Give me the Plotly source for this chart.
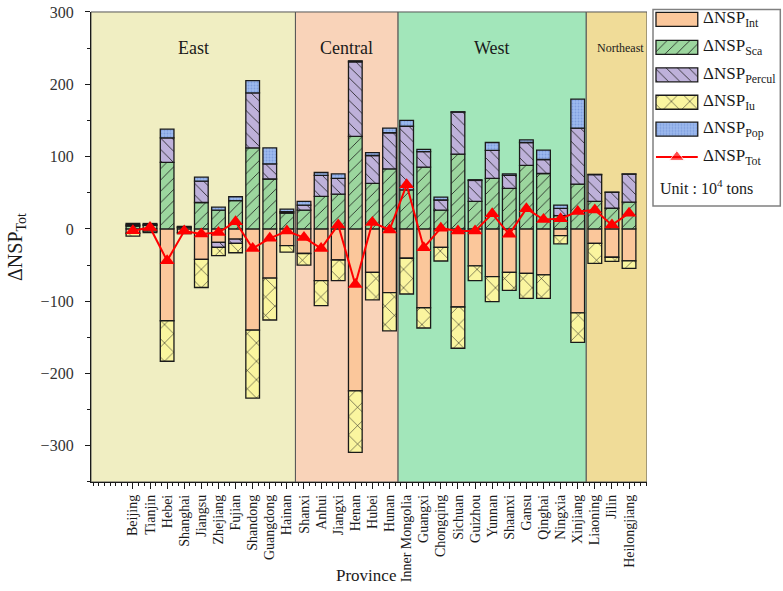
import plotly.graph_objects as go

# ---------------- data ----------------
PROVINCES = ["Beijing", "Tianjin", "Hebei", "Shanghai", "Jiangsu", "Zhejiang", "Fujian",
             "Shandong", "Guangdong", "Hainan",
             "Shanxi", "Anhui", "Jiangxi", "Henan", "Hubei", "Hunan",
             "Inner Mongolia", "Guangxi", "Chongqing", "Sichuan", "Guizhou", "Yunnan",
             "Shaanxi", "Gansu", "Qinghai", "Ningxia", "Xinjiang",
             "Liaoning", "Jilin", "Heilongjiang"]

REGIONS = ["East", "Central", "West", "Northeast"]
REGION_SIZES = [10, 6, 11, 3]

NSP_INT = [-6, -3, -127, -5, -42, -18.5, -14, -140, -68, -23,
           -34, -71.5, -43, -224, -60, -88,
           -40.6, -109, -25.4, -108, -51, -66, -60, -61.4, -63.7, -9.2, -116,
           -20, -39.2, -44.3]
NSP_SCA = [4, 5, 92, 2, 36.5, 26, 39, 112, 69, 22,
           26, 45, 48, 128, 63, 83,
           54, 85.5, 26, 103.5, 38, 70, 56, 88, 76.6, 18.5, 62,
           38, 28.6, 37]
NSP_PERCUL = [1.5, 1, 34, 0.5, 29.5, -7, -6, 76, 21, 2,
              7, 29, 22, 103, 38.5, 50,
              88, 21.5, 14, 58, 29, 38.5, 18, 31.5, 19.4, 10, 77.5,
              37, 22, 38.7]
NSP_IU = [-4, -2, -56, -1.5, -39, -11.5, -13, -94, -58, -9,
          -16, -34.5, -28.5, -85, -38, -53,
          -49.4, -28, -19, -57, -20.5, -34.6, -25, -34.6, -32.3, -11.6, -41,
          -27.7, -5.8, -10.2]
NSP_POP = [2, 1.5, 12, 1, 5.5, 4, 5.5, 17, 22, 3.5,
           5, 4, 6, 1.5, 4, 6.5,
           8, 3, 4, 0.5, 1, 11, 2, 3.5, 13, 4.5, 40,
           0.5, 0.3, 0.3]
NSP_TOT = [-2.5, 2, -44, -3, -7, -5, 10, -27, -13, -3,
           -12, -27, 5.5, -77, 9, -1.5,
           61, -26, 1, -3, -3, 21, -7.5, 28, 13, 14, 24,
           26, 5.5, 21.7]

Y_TICKS = [-300, -200, -100, 0, 100, 200, 300]

# ---------------- styles ----------------
FONT = "Liberation Serif"
X_RANGE = [-2.45, 30.05]
Y_RANGE = [-350, 300]
REGION_COLORS = ["#F0EEC2", "#F9D3B9", "#A2E6BA", "#F0DC98"]

SERIES = [
    ("ΔNSP<sub>Int</sub>", NSP_INT, "#FBC79B", "", 8, "#000000", 0.1),
    ("ΔNSP<sub>Sca</sub>", NSP_SCA, "#9CD69E", "/", 8, "#1a1a1a", 0.1),
    ("ΔNSP<sub>Percul</sub>", NSP_PERCUL, "#BEB1DA", "\\", 8, "#1a1a1a", 0.1),
    ("ΔNSP<sub>Iu</sub>", NSP_IU, "#FAF59F", "x", 13, "#1a1a1a", 0.08),
    ("ΔNSP<sub>Pop</sub>", NSP_POP, "#9DBAEE", ".", 3, "#7F9EDE", 0.3),
]
OUTLINE = dict(color="#1a1a1a", width=1.3)


def pattern(shape, size, fg, sol, color):
    return dict(shape=shape, size=size, fgcolor=fg, bgcolor=color, solidity=sol,
                fillmode="replace")


idx = list(range(len(PROVINCES)))

fig = go.Figure()

for name, vals, color, shape, size, fg, sol in SERIES:
    fig.add_trace(go.Bar(x=idx, y=vals, width=0.8, name=name, showlegend=False,
                         marker=dict(color=color, line=OUTLINE,
                                     pattern=pattern(shape, size, fg, sol, color))))

fig.add_trace(go.Scatter(x=idx, y=NSP_TOT, mode="lines+markers", showlegend=False,
                         line=dict(color="#FF0000", width=2),
                         marker=dict(symbol="triangle-up", size=13, color="#FF0000")))

# ---------------- regions ----------------
shapes = []
annotations = []
start = X_RANGE[0]
cum = 0
LABEL_Y = 250
label_size = [18, 18, 18, 12]
for i, (reg, n) in enumerate(zip(REGIONS, REGION_SIZES)):
    cum += n
    last = i == len(REGIONS) - 1
    end = X_RANGE[1] if last else cum - 0.5
    shapes.append(dict(type="rect", xref="x", yref="y domain", x0=start, x1=end, y0=0, y1=1,
                       fillcolor=REGION_COLORS[i], line=dict(color="#555555", width=1),
                       layer="below"))
    cx = start + 0.5 if last else (start + end) / 2
    annotations.append(dict(x=cx, y=LABEL_Y, xref="x", yref="y", text=reg, showarrow=False,
                            xanchor="left" if last else "center", yanchor="middle",
                            font=dict(family=FONT, size=label_size[i], color="#1a1a1a")))
    start = end

# ---------------- legend (inset) ----------------
LEG_ROWS = [10, 38, 65.5, 93, 120]
LEG_TOT_ROW = 148
LEG_UNIT_ROW = 178
LEG_TEXT_X = 48
for (name, vals, color, shape, size, fg, sol), ry in zip(SERIES, LEG_ROWS):
    fig.add_trace(go.Bar(x=[42], y=[ry], base=[3], width=[14], orientation="h",
                         xaxis="x2", yaxis="y2", showlegend=False, hoverinfo="skip",
                         marker=dict(color=color, line=OUTLINE,
                                     pattern=pattern(shape, size, fg, sol, color))))
    annotations.append(dict(x=LEG_TEXT_X, y=ry, xref="x2", yref="y2", text=name, showarrow=False,
                            xanchor="left", yanchor="middle",
                            font=dict(family=FONT, size=17, color="#1a1a1a")))
fig.add_trace(go.Scatter(x=[3, 24, 45], y=[LEG_TOT_ROW] * 3, xaxis="x2", yaxis="y2",
                         mode="lines+markers", showlegend=False, hoverinfo="skip",
                         line=dict(color="#FF0000", width=2),
                         marker=dict(symbol="triangle-up", size=[0, 13, 0], color="#FF0000")))
annotations.append(dict(x=LEG_TEXT_X, y=LEG_TOT_ROW, xref="x2", yref="y2", text="ΔNSP<sub>Tot</sub>",
                        showarrow=False, xanchor="left", yanchor="middle",
                        font=dict(family=FONT, size=17, color="#1a1a1a")))
annotations.append(dict(x=5, y=LEG_UNIT_ROW, xref="x2", yref="y2", text="Unit : 10<sup>4</sup> tons",
                        showarrow=False, xanchor="left", yanchor="middle",
                        font=dict(family=FONT, size=16, color="#1a1a1a")))

MAIN_X_DOMAIN = [0, 0.8058]
MAIN_Y_DOMAIN = [0, 0.9937]
LEG_X_DOMAIN = [0.8145, 0.999]
LEG_Y_DOMAIN = [0.5835, 0.999]
shapes.append(dict(type="rect", xref="paper", yref="paper", x0=LEG_X_DOMAIN[0], x1=LEG_X_DOMAIN[1],
                   y0=LEG_Y_DOMAIN[0], y1=LEG_Y_DOMAIN[1], line=dict(color="#808080", width=1.5),
                   layer="below", fillcolor="white"))

# x-axis title placed among the rotated labels
annotations.append(dict(x=13.6, y=-0.197, xref="x", yref="paper", text="Province",
                        showarrow=False, xanchor="center", yanchor="middle",
                        font=dict(family=FONT, size=17, color="#1a1a1a")))

fig.update_layout(
    width=783, height=591,
    margin=dict(l=91, r=2, t=9, b=109, autoexpand=False),
    paper_bgcolor="white", plot_bgcolor="white",
    barmode="relative",
    shapes=shapes, annotations=annotations,
    font=dict(family=FONT, color="#1a1a1a"),
    xaxis=dict(domain=MAIN_X_DOMAIN, range=X_RANGE, tickmode="array", automargin=False,
               tickvals=idx, ticktext=PROVINCES, tickangle=-90,
               ticks="outside", ticklen=6, tickwidth=1, tickcolor="#1a1a1a",
               minor=dict(tickmode="linear", tick0=0, dtick=1 / 3, ticks="outside", ticklen=3,
                          tickcolor="#1a1a1a"),
               showline=True, linecolor="#1a1a1a", linewidth=1.3, showgrid=False, zeroline=False,
               tickfont=dict(family=FONT, size=14, color="#1a1a1a")),
    yaxis=dict(domain=MAIN_Y_DOMAIN, range=Y_RANGE, tickmode="array", tickvals=Y_TICKS,
               automargin=False, ticklabeloverflow="allow",
               ticks="outside", ticklen=5, tickcolor="#1a1a1a",
               minor=dict(tickmode="linear", tick0=0, dtick=50, ticks="outside", ticklen=3,
                          tickcolor="#1a1a1a"),
               showline=True, linecolor="#1a1a1a", linewidth=1.3, showgrid=False, zeroline=False,
               ticklabelstandoff=8,
               tickfont=dict(family=FONT, size=16, color="#333333"),
               title=dict(text="ΔNSP<sub>Tot</sub>", standoff=12,
                          font=dict(family=FONT, size=20, color="#1a1a1a"))),
    xaxis2=dict(domain=LEG_X_DOMAIN, range=[0, 128], visible=False, fixedrange=True),
    yaxis2=dict(domain=LEG_Y_DOMAIN, range=[197, 0], visible=False, fixedrange=True),
)

# remove the default 8 px page margin so the figure fills the window exactly
fig.write_html("out.html", config={"displayModeBar": False},
               post_script="document.body.style.margin='0';")
